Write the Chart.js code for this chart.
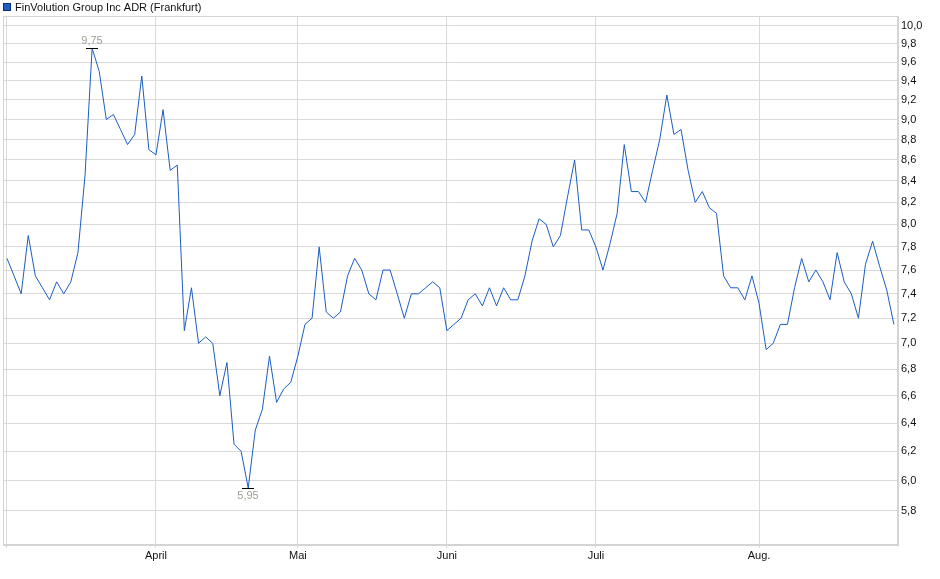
<!DOCTYPE html>
<html>
<head>
<meta charset="utf-8">
<script src="https://cdn.jsdelivr.net/npm/chart.js@4/dist/chart.umd.min.js"></script>
<style>
  html, body { margin: 0; padding: 0; background: #fff; }
  #wrap { width: 940px; height: 579px; }
</style>
</head>
<body>
<div id="wrap"><canvas id="chart" width="940" height="579"></canvas></div>
<script>
// FinVolution Group Inc ADR (Frankfurt), daily closes Mar - Aug 2025
const title = 'FinVolution Group Inc ADR (Frankfurt)';

// month labels and the trading-day index where each month starts
const monthLabels = ['', 'April', 'Mai', 'Juni', 'Juli', 'Aug.'];
const monthStart = [0, 21, 41, 62, 83, 106];

const yTicks = [5.8, 6.0, 6.2, 6.4, 6.6, 6.8, 7.0, 7.2, 7.4, 7.6, 7.8, 8.0, 8.2, 8.4, 8.6, 8.8, 9.0, 9.2, 9.4, 9.6, 9.8, 10.0];

const prices = [
  7.70, 7.55, 7.40, 7.90, 7.55, 7.45, 7.35, 7.50, 7.40, 7.50,
  7.75, 8.45, 9.75, 9.50, 9.00, 9.05, 8.90, 8.75, 8.85, 9.45,
  8.70, 8.65, 9.10, 8.50, 8.55, 7.10, 7.45, 7.00, 7.05, 7.00,
  6.60, 6.85, 6.25, 6.20, 5.95, 6.35, 6.50, 6.90, 6.55, 6.65,
  6.70, 6.90, 7.15, 7.20, 7.80, 7.25, 7.20, 7.25, 7.55, 7.70,
  7.60, 7.40, 7.35, 7.60, 7.60, 7.40, 7.20, 7.40, 7.40, 7.45,
  7.50, 7.45, 7.10, 7.15, 7.20, 7.35, 7.40, 7.30, 7.45, 7.30,
  7.45, 7.35, 7.35, 7.55, 7.85, 8.05, 8.00, 7.80, 7.90, 8.25,
  8.60, 7.95, 7.95, 7.80, 7.60, 7.83, 8.10, 8.75, 8.30, 8.30,
  8.20, 8.50, 8.80, 9.25, 8.85, 8.90, 8.50, 8.20, 8.30, 8.15,
  8.10, 7.55, 7.45, 7.45, 7.35, 7.55, 7.32, 6.95, 7.00, 7.15,
  7.15, 7.45, 7.70, 7.50, 7.60, 7.50, 7.35, 7.75, 7.50, 7.40,
  7.20, 7.65, 7.85, 7.63, 7.43, 7.15
];

const FONT = "'Liberation Sans', Arial, sans-serif";
const fmt = v => v.toFixed(2).replace(/0$/, '').replace('.', ',');

// legend square + title text
const titlePlugin = {
  id: 'titlePlugin',
  afterDraw(chart) {
    const ctx = chart.ctx;
    ctx.save();
    ctx.fillStyle = '#1f5fc4';
    ctx.fillRect(3, 3, 7, 7);
    ctx.strokeStyle = '#0b2f73';
    ctx.lineWidth = 1;
    ctx.strokeRect(3.5, 3.5, 7, 7);
    ctx.fillStyle = '#111';
    ctx.font = '11px ' + FONT;
    ctx.textBaseline = 'alphabetic';
    ctx.fillText(title, 15, 11);
    ctx.restore();
  }
};

// light frame around the plot area
const frame = {
  id: 'frame',
  beforeDatasetsDraw(chart) {
    const { left, top, right, bottom } = chart.chartArea;
    const ctx = chart.ctx;
    ctx.save();
    ctx.strokeStyle = '#d4d4d4';
    ctx.lineWidth = 1;
    ctx.strokeRect(Math.round(left) + 0.5, Math.round(top) + 0.5,
      Math.round(right - left) - 1, Math.round(bottom - top) - 1);
    ctx.restore();
  }
};

// high / low markers with value labels
const extremes = {
  id: 'extremes',
  afterDatasetsDraw(chart) {
    const ctx = chart.ctx, xs = chart.scales.x, ys = chart.scales.y;
    let hi = 0, lo = 0;
    prices.forEach((v, i) => {
      if (v > prices[hi]) hi = i;
      if (v < prices[lo]) lo = i;
    });
    ctx.save();
    ctx.font = '11px ' + FONT;
    ctx.textAlign = 'center';
    ctx.strokeStyle = '#000';
    ctx.lineWidth = 1;
    [[hi, -1], [lo, 1]].forEach(([i, dir]) => {
      const x = Math.round(xs.getPixelForValue(i));
      const y = Math.round(ys.getPixelForValue(prices[i])) + 0.5;
      ctx.beginPath();
      ctx.moveTo(x - 6, y);
      ctx.lineTo(x + 6, y);
      ctx.stroke();
      ctx.fillStyle = '#a39e96';
      ctx.textBaseline = dir < 0 ? 'bottom' : 'top';
      ctx.fillText(fmt(prices[i]), x, y + dir * 2);
    });
    ctx.restore();
  }
};

new Chart(document.getElementById('chart'), {
  type: 'line',
  data: {
    datasets: [{
      data: prices.map((v, i) => ({ x: i, y: v })),
      borderColor: '#1b5cc4',
      borderWidth: 1,
      pointRadius: 0,
      tension: 0,
      fill: false
    }]
  },
  options: {
    responsive: false,
    devicePixelRatio: 1,
    animation: false,
    layout: { padding: { left: 3, top: 16, right: 0, bottom: 0 } },
    plugins: { legend: { display: false }, tooltip: { enabled: false } },
    scales: {
      x: {
        type: 'linear',
        min: -0.56,
        max: 125.58,
        afterBuildTicks: s => { s.ticks = monthStart.map(v => ({ value: v })); },
        afterFit: s => { s.height = 34; },
        grid: { color: '#dadada', tickLength: 3, tickColor: '#dadada' },
        border: { color: '#d4d4d4' },
        ticks: {
          autoSkip: false,
          maxRotation: 0,
          padding: 1,
          color: '#111',
          font: { family: FONT, size: 11 },
          callback: v => monthLabels[monthStart.indexOf(v)]
        }
      },
      y: {
        type: 'logarithmic',
        position: 'right',
        min: 5.581,
        max: 10.109,
        afterBuildTicks: s => { s.ticks = yTicks.map(v => ({ value: v })); },
        afterFit: s => { s.width = 42; },
        grid: { color: '#dadada', drawTicks: false },
        border: { color: '#d4d4d4' },
        ticks: {
          autoSkip: false,
          padding: 3,
          color: '#111',
          font: { family: FONT, size: 11 },
          callback: v => v.toFixed(1).replace('.', ',')
        }
      }
    }
  },
  plugins: [titlePlugin, frame, extremes]
});
</script>
</body>
</html>
